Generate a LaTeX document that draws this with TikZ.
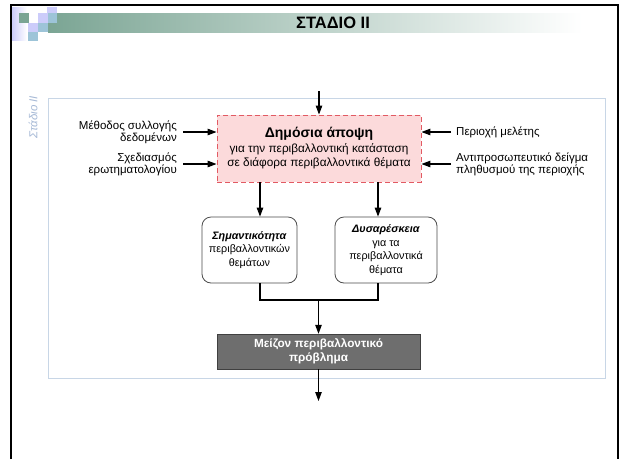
\documentclass[tikz,border=0pt]{standalone}
\usepackage{fontspec}
\setmainfont{Liberation Sans}
\usetikzlibrary{positioning, arrows.meta}

\definecolor{pinkfill}{HTML}{FCDADB}
\definecolor{pinkline}{HTML}{E25A63}
\definecolor{bandgreen}{HTML}{7BA594}
\definecolor{bandmid}{HTML}{B3C8C1}
\definecolor{lavender}{HTML}{CCCCFA}
\definecolor{paleblue}{HTML}{9DC4D8}
\definecolor{frameblue}{HTML}{C8D6E6}
\definecolor{labelblue}{HTML}{A6B9D6}
\definecolor{probgrey}{HTML}{6E6E6E}

\begin{document}
\begin{tikzpicture}[x=1pt, y=-1pt,
    arr/.style={-{Triangle[length=9pt,width=6.5pt]}, line width=1.1pt},
    txt/.style={font=\fontsize{11.5}{12}\selectfont, inner sep=2pt},
    pubbox/.style={draw=pinkline, fill=pinkfill, dashed, dash pattern=on 5pt off 3pt, line width=0.9pt,
        minimum width=204pt, minimum height=67pt, align=center, font=\fontsize{11.8}{14.5}\selectfont},
    rbox/.style={draw=black!70, fill=white, rounded corners=9pt, line width=0.8pt,
        minimum height=66pt, align=center, font=\fontsize{10.8}{13.5}\selectfont, inner sep=1pt},
    probbox/.style={draw=black!75, fill=probgrey, minimum width=203pt, minimum height=35pt,
        align=center, text=white, font=\fontsize{11.8}{14}\selectfont\bfseries}]
    \useasboundingbox (0,0) rectangle (621,459);
    \fill[white] (0,0) rectangle (621,459);

    % slide header
    \shade[left color=bandgreen, middle color=bandmid, right color=white] (48,13) rectangle (582,32);
    \shade[left color=lavender, right color=white] (12,7) rectangle (27,40);
    \fill[bandgreen] (19,13) rectangle (29,23);
    \fill[lavender] (47,7) rectangle (57,13);
    \fill[lavender] (38,13) rectangle (48,23);
    \fill[lavender] (28,23) rectangle (38,32);
    \fill[paleblue] (48,13) rectangle (57,23);
    \fill[paleblue] (38,23) rectangle (48,32);
    \fill[paleblue] (28,32) rectangle (38,41);
    \draw[line width=2pt] (11,459) -- (11,5) -- (618,5) -- (618,459);
    \node[font=\fontsize{16.5}{18}\selectfont\bfseries] (title) at (333,23) {ΣΤΑΔΙΟ II};

    % stage frame
    \draw[frameblue, line width=1pt] (48,98) rectangle (605,378);
    \node[rotate=90, text=labelblue, font=\fontsize{11.5}{13}\selectfont\itshape] (stage) at (33,117) {Στάδιο II};

    % main boxes
    \node[pubbox] (pub) at (319,148.5) {{\fontsize{14}{15}\selectfont\bfseries Δημόσια άποψη}\\
        για την περιβαλλοντική κατάσταση\\ σε διάφορα περιβαλλοντικά θέματα};
    \node[rbox, minimum width=95pt] (sem) at (249.5,250) {\textbf{\textit{Σημαντικότητα}}\\ περιβαλλοντικών\\ θεμάτων};
    \node[rbox, minimum width=102pt] (dys) at (386,250) {\textbf{\textit{Δυσαρέσκεια}}\\ για τα\\ περιβαλλοντικά\\ θέματα};
    \node[probbox] (prob) at (318.5,351.5) {Μείζον περιβαλλοντικό\\ πρόβλημα};

    % inputs
    \node[txt, anchor=east, align=right] (meth) at (179,132) {Μέθοδος συλλογής\\ δεδομένων};
    \node[txt, anchor=east, align=right] (quest) at (179,164) {Σχεδιασμός\\ ερωτηματολογίου};
    \node[txt, anchor=west, align=left] (area) at (454,132) {Περιοχή μελέτης};
    \node[txt, anchor=west, align=left] (sample) at (454,164) {Αντιπροσωπευτικό δείγμα\\ πληθυσμού της περιοχής};

    \draw[arr] (meth.east) ++(4,0) -- (meth.east -| pub.west);
    \draw[arr] (quest.east) ++(4,0) -- (quest.east -| pub.west);
    \draw[arr] (area.west) ++(-3,0) -- (area.west -| pub.east);
    \draw[arr] (sample.west) ++(-3,0) -- (sample.west -| pub.east);

    % flow
    \coordinate (in) at (319,91);
    \coordinate (join) at (318.5,300);
    \coordinate (out) at (318.5,401);
    \draw[arr] (in) -- (pub.north);
    \draw[arr] ([xshift=10.5pt]sem.north |- pub.south) -- ([xshift=10.5pt]sem.north);
    \draw[arr] ([xshift=-8pt]dys.north |- pub.south) -- ([xshift=-8pt]dys.north);
    \draw[line width=1.1pt] ([xshift=10.5pt]sem.south) -- ([xshift=10.5pt]sem.south |- join)
        -- ([xshift=-8pt]dys.south |- join) -- ([xshift=-8pt]dys.south);
    \draw[arr] (join) -- (prob.north);
    \draw[arr] (prob.south) -- (out);
\end{tikzpicture}
\end{document}
